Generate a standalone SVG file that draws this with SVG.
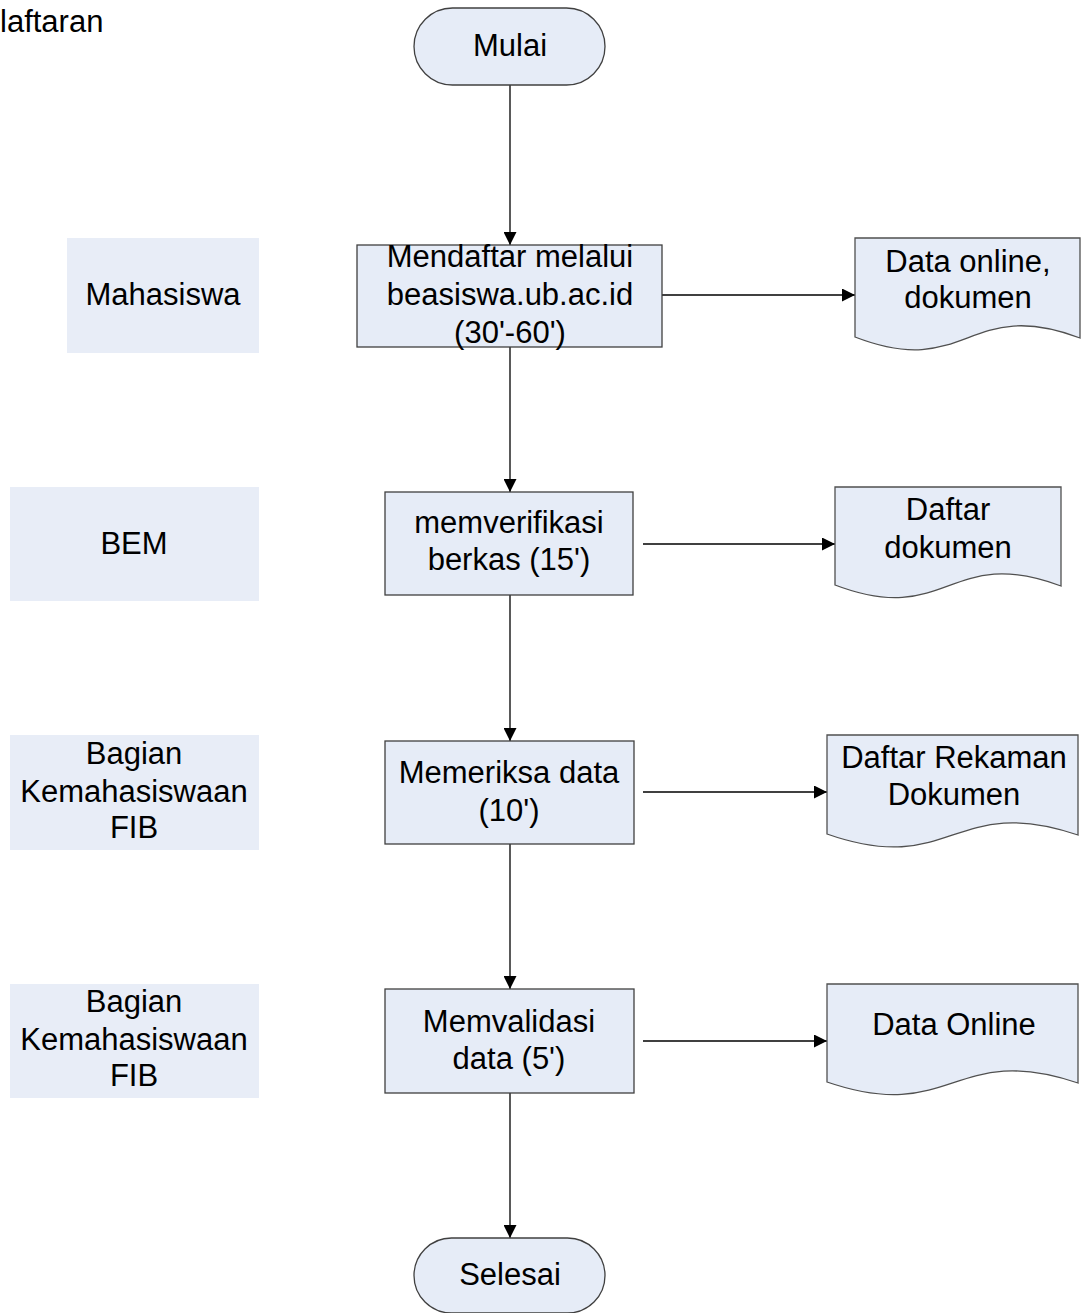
<svg xmlns="http://www.w3.org/2000/svg" width="1082" height="1313" viewBox="0 0 1082 1313">
<defs>
<marker id="arr" markerUnits="userSpaceOnUse" markerWidth="14" markerHeight="13" refX="13" refY="6.5" orient="auto">
<path d="M0,0 L13,6.5 L0,13 Z" fill="#000"/>
</marker>
<style>
text{font-family:"Liberation Sans",Arial,sans-serif;font-size:31px;fill:#000;text-anchor:middle}
.lane{fill:#E8EDF7;stroke:none}
.proc{fill:#E6ECF7;stroke:#404040;stroke-width:1.3}
.term{fill:#E6ECF7;stroke:#404040;stroke-width:1.3}
.doc{fill:#E6ECF7;stroke:#505050;stroke-width:1.3}
.conn{fill:none;stroke:#000;stroke-width:1.3;marker-end:url(#arr)}
</style>
</defs>
<rect width="1082" height="1313" fill="#fff"/>
<text x="0" y="32" style="text-anchor:start">laftaran</text>

<g id="lane-mahasiswa"><rect class="lane" x="67" y="238" width="192" height="115"/><text x="163" y="305">Mahasiswa</text></g>
<g id="lane-bem"><rect class="lane" x="10" y="487" width="249" height="114"/><text x="134" y="554">BEM</text></g>
<g id="lane-fib1"><rect class="lane" x="10" y="735" width="249" height="115"/><text x="134" y="764">Bagian</text><text x="134" y="802">Kemahasiswaan</text><text x="134" y="838">FIB</text></g>
<g id="lane-fib2"><rect class="lane" x="10" y="984" width="249" height="114"/><text x="134" y="1012">Bagian</text><text x="134" y="1050">Kemahasiswaan</text><text x="134" y="1086">FIB</text></g>

<g id="connectors">
<line class="conn" x1="510" y1="85" x2="510" y2="245"/>
<line class="conn" x1="510" y1="347" x2="510" y2="492"/>
<line class="conn" x1="510" y1="595" x2="510" y2="741"/>
<line class="conn" x1="510" y1="844" x2="510" y2="989"/>
<line class="conn" x1="510" y1="1093" x2="510" y2="1238"/>
<line class="conn" x1="662" y1="295" x2="855" y2="295"/>
<line class="conn" x1="643" y1="544" x2="835" y2="544"/>
<line class="conn" x1="643" y1="792" x2="827" y2="792"/>
<line class="conn" x1="643" y1="1041" x2="827" y2="1041"/>
</g>

<g id="mulai"><rect class="term" x="414" y="8" width="191" height="77" rx="38.5" ry="38.5"/><text x="510" y="56">Mulai</text></g>

<g id="p1"><rect class="proc" x="357" y="245" width="305" height="102"/><text x="510" y="267">Mendaftar melalui</text><text x="510" y="305">beasiswa.ub.ac.id</text><text x="510" y="343">(30'-60')</text></g>
<g id="d1"><path class="doc" d="M855,238 H1080 V338 C967.5,295.5 967.5,380.6 855,337 Z"/><text x="968" y="272">Data online,</text><text x="968" y="308">dokumen</text></g>

<g id="p2"><rect class="proc" x="385" y="492" width="248" height="103"/><text x="509" y="533">memverifikasi</text><text x="509" y="570">berkas (15')</text></g>
<g id="d2"><path class="doc" d="M835,487 H1061 V586 C948,544 948,628 835,585 Z"/><text x="948" y="520">Daftar</text><text x="948" y="558">dokumen</text></g>

<g id="p3"><rect class="proc" x="385" y="741" width="249" height="103"/><text x="509" y="783">Memeriksa data</text><text x="509" y="821">(10')</text></g>
<g id="d3"><path class="doc" d="M827,735 H1078 V835 C952.5,792.5 952.5,878 827,834 Z"/><text x="954" y="768">Daftar Rekaman</text><text x="954" y="805">Dokumen</text></g>

<g id="p4"><rect class="proc" x="385" y="989" width="249" height="104"/><text x="509" y="1032">Memvalidasi</text><text x="509" y="1069">data (5')</text></g>
<g id="d4"><path class="doc" d="M827,984 H1078 V1083 C952.5,1041 952.5,1125 827,1082 Z"/><text x="954" y="1035">Data Online</text></g>

<g id="selesai"><rect class="term" x="414" y="1238" width="191" height="75" rx="37.5" ry="37.5"/><text x="510" y="1285">Selesai</text></g>
</svg>
